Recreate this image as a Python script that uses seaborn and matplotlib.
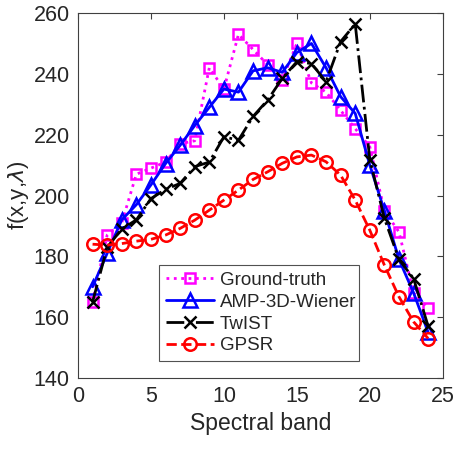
import numpy as np
import pandas as pd
import matplotlib
matplotlib.use("Agg")
import matplotlib.pyplot as plt
import seaborn as sns

bands = list(range(1, 25))
ground_truth = [165, 187, 191, 207, 209, 211, 217, 218, 242, 235, 253, 248,
                243, 238, 250, 237, 234, 228, 222, 216, 195, 188, 168, 163]
amp_3d_wiener = [170, 181, 192, 197, 203.5, 210.5, 216.5, 223, 229, 235, 234, 241,
                 242, 240.5, 247, 250, 242, 232.5, 227, 210, 195, 179, 168, 155]
twist = [165, 183, 189, 192, 199, 202, 204, 209.5, 211, 219.3, 218.2, 226,
         231.4, 238.5, 244, 243.4, 237.4, 250.6, 256.4, 211.8, 192.5, 179, 172.7, 157]
gpsr = [184, 183.7, 184.2, 185, 185.6, 187, 189.2, 191.9, 195.2, 198.5, 201.8, 205.3,
        207.8, 210.6, 212.7, 213.3, 211.1, 206.7, 198.5, 188.6, 177.1, 166.7, 158.5, 153]

labels = ["Ground-truth", "AMP-3D-Wiener", "TwIST", "GPSR"]
series = [ground_truth, amp_3d_wiener, twist, gpsr]
x_ticks = [0, 5, 10, 15, 20, 25]
y_ticks = [140, 160, 180, 200, 220, 240, 260]

df = pd.DataFrame({
    "band": bands * 4,
    "value": sum(series, []),
    "method": sum([[l] * len(bands) for l in labels], []),
})

sns.set_theme(style="white")
plt.rcParams["font.family"] = ["Liberation Sans", "DejaVu Sans"]
plt.rcParams["mathtext.fontset"] = "dejavusans"

fig = plt.figure(figsize=(4.56, 4.49), dpi=100)
ax = fig.add_axes([0.171, 0.158, 0.800, 0.813])

styles = {
    "Ground-truth": dict(color="#ff00ff", ls=":", marker="s", ms=7.5),
    "AMP-3D-Wiener": dict(color="#0000ff", ls="-", marker="^", ms=10),
    "TwIST": dict(color="#000000", ls="-.", marker="x", ms=9),
    "GPSR": dict(color="#ff0000", ls="--", marker="o", ms=9),
}

for lab in labels:
    st = styles[lab]
    sub = df[df["method"] == lab]
    sns.lineplot(data=sub, x="band", y="value", ax=ax, color=st["color"],
                 linestyle=st["ls"], marker=st["marker"], markersize=st["ms"],
                 markerfacecolor="none", markeredgecolor=st["color"],
                 markeredgewidth=1.8, linewidth=2.0, label=lab, sort=False)

ax.set_xlim(0, 25)
ax.set_ylim(140, 260)
ax.set_xticks(x_ticks)
ax.set_yticks(y_ticks)
ax.tick_params(direction="in", length=4, width=0.8, labelsize=15.5,
               top=True, right=True, colors="#404040", pad=6)
ax.tick_params(axis="both", labelcolor="#262626")
for sp in ax.spines.values():
    sp.set_color("#404040")
    sp.set_linewidth(0.8)

ax.set_xlabel("Spectral band", fontsize=16.5, color="#262626", labelpad=3)
ax.set_ylabel(r"f(x,y,$\lambda$)", fontsize=16, color="#262626", labelpad=2)

leg = ax.legend(loc="lower left", bbox_to_anchor=(0.222, 0.047, 0.548, 0.293),
                mode="expand", fontsize=13.5, frameon=True, fancybox=False,
                handlelength=2.6, borderaxespad=0, labelspacing=0.25,
                handletextpad=0.3, borderpad=0.35)
leg.get_frame().set_edgecolor("#262626")
leg.get_frame().set_linewidth(0.8)

fig.savefig("out.png", dpi=100)
